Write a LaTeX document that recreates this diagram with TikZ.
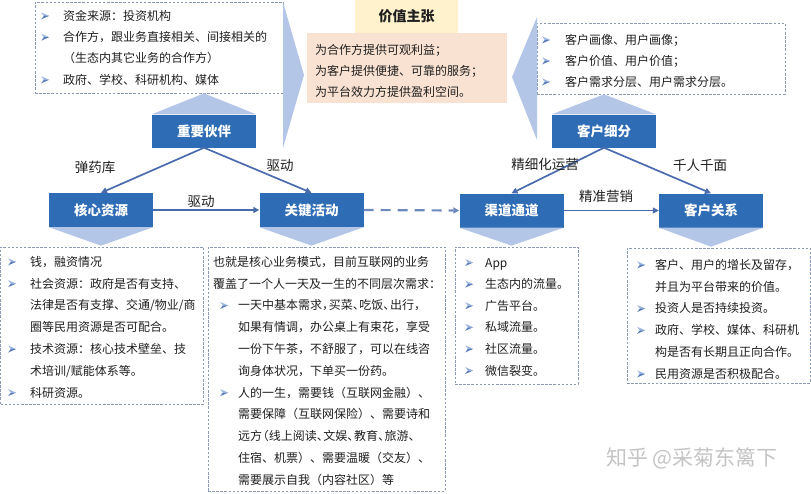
\documentclass[tikz,border=0pt]{standalone}
\usepackage{fontspec}
\setmainfont{Noto Sans CJK SC}
\usetikzlibrary{arrows.meta}
\definecolor{boxblue}{HTML}{2E6CB5}
\definecolor{lineblue}{HTML}{4A6CAD}
\definecolor{tricol}{HTML}{B4C6E7}
\definecolor{dashc}{HTML}{8A9AB5}
\definecolor{txt}{HTML}{1F1F1F}
\definecolor{vptitle}{HTML}{FFF2CC}
\definecolor{vpbody}{HTML}{F9E2D2}
\definecolor{bullight}{HTML}{9DB6DE}
\definecolor{buldark}{HTML}{5A7DB8}
\definecolor{wmark}{HTML}{C4C4C4}
\newcommand\arrbul{\tikz[x=1pt,y=1pt,baseline=0pt]{\fill[bullight] (0,8) -- (8,4.5) -- (2.6,4.5) -- cycle; \fill[buldark] (0,1) -- (8,4.5) -- (2.6,4.5) -- cycle;}}
\newcommand\bx[1]{\makebox[#1][l]{\arrbul}}
\newcommand\ix[1]{\hspace*{#1}}
\newcommand\dn{\makebox[.55em][l]{、}}
\newcommand\cm{\makebox[.55em][l]{，}}
\newcommand\lp{\makebox[.55em][r]{（}}
\begin{document}
\begin{tikzpicture}[x=1pt,y=-1pt,
  blk/.style={fill=boxblue, text=white, font=\fontsize{13.5}{14}\selectfont\bfseries, minimum width=104pt, minimum height=33pt, inner sep=0pt},
  dbox/.style={draw=dashc, dash pattern=on 2.5pt off 1.6pt, line width=0.7pt, inner sep=0pt},
  body/.style={anchor=north west, align=left, inner sep=0pt, text=txt, font=\fontsize{12}{21.8}\selectfont},
  conn/.style={draw=lineblue, line width=1.7pt, -{Triangle[length=6pt,width=6pt]}},
  dconn/.style={draw=lineblue!80, line width=2.2pt, dash pattern=on 10pt off 7pt, -{Triangle[length=6pt,width=6pt]}},
  lbl/.style={font=\fontsize{13.5}{14}\selectfont, text=txt, inner sep=0pt}
]
\useasboundingbox (0,0) rectangle (811,493);

% dashed boxes
\node[dbox, minimum width=248pt, minimum height=91pt] (pd) at (159,47.5) {};
\node[dbox, minimum width=248pt, minimum height=71pt] (sd) at (661,58.5) {};
\node[dbox, minimum width=203pt, minimum height=157pt] (rd) at (102,325.5) {};
\node[dbox, minimum width=237pt, minimum height=244pt] (ad) at (326.5,369) {};
\node[dbox, minimum width=123pt, minimum height=137pt] (cd) at (516.5,315.5) {};
\node[dbox, minimum width=183pt, minimum height=135pt] (rld) at (718.5,315.5) {};

% blue boxes
\node[blk] (kp) at (204,131) {重要伙伴};
\node[blk] (cs) at (604,131) {客户细分};
\node[blk, minimum height=34pt] (kr) at (101,210) {核心资源};
\node[blk, minimum height=34pt] (ka) at (311.5,210) {关键活动};
\node[blk, minimum height=34pt] (ch) at (511.5,210.5) {渠道通道};
\node[blk, minimum height=34pt] (cr) at (711,210.5) {客户关系};

% pointer triangles
\fill[tricol] (kp.north west) -- (kp.north east) -- (kp.north |- pd.south) -- cycle;
\fill[tricol] (cs.north west) -- (cs.north east) -- (cs.north |- sd.south) -- cycle;
\fill[tricol] (kr.south west) -- (kr.south east) -- ([yshift=1pt]kr.south |- rd.north) -- cycle;
\fill[tricol] (ka.south west) -- (ka.south east) -- ([yshift=1pt]ka.south |- ad.north) -- cycle;
\fill[tricol] (ch.south west) -- (ch.south east) -- ([yshift=1pt]ch.south |- cd.north) -- cycle;
\fill[tricol] (cr.south west) -- (cr.south east) -- ([yshift=1pt]cr.south |- rld.north) -- cycle;

% chevrons toward value proposition
\fill[tricol] (283,2) -- (304,75) -- (283,148) -- cycle;
\fill[tricol] (537,17) -- (512,77) -- (537,140) -- cycle;

% value proposition
\node[fill=vptitle, minimum width=103pt, minimum height=33pt, inner sep=0pt, text=txt, font=\fontsize{14}{14}\selectfont\bfseries] (vpt) at (406.5,16.5) {价值主张};
\node[fill=vpbody, minimum width=200pt, minimum height=70pt, inner sep=0pt] (vpb) at (407,68) {};
\node[body, font=\fontsize{12}{21}\selectfont] (vptx) at (315,44) {为合作方提供可观利益；\\为客户提供便捷、可靠的服务；\\为平台效力方提供盈利空间。};

% texts
\node[body, font=\fontsize{12}{21.3}\selectfont] (pdt) at (41,10) {\bx{22pt}资金来源：投资机构\\
\bx{22pt}合作方，跟业务直接相关、间接相关的\\
\ix{22pt}（生态内其它业务的合作方）\\
\bx{22pt}政府、学校、科研机构、媒体};

\node[body, font=\fontsize{12}{21}\selectfont] (sdt) at (542,34) {\bx{23pt}客户画像、用户画像；\\
\bx{23pt}客户价值、用户价值；\\
\bx{23pt}客户需求分层、用户需求分层。};

\node[body] (rdt) at (8,256) {\bx{22pt}钱，融资情况\\
\bx{22pt}社会资源：政府是否有支持、\\
\ix{22pt}法律是否有支撑、交通/物业/商\\
\ix{22pt}圈等民用资源是否可配合。\\
\bx{22pt}技术资源：核心技术壁垒、技\\
\ix{22pt}术培训/赋能体系等。\\
\bx{22pt}科研资源。};

\node[body] (adt) at (213,256) {也就是核心业务模式，目前互联网的业务\\
覆盖了一个人一天及一生的不同层次需求：\\
\ix{7pt}\bx{18pt}一天中基本需求\cm 买菜\dn 吃饭\dn 出行\cm\\
\ix{25pt}如果有情调，办公桌上有束花，享受\\
\ix{25pt}一份下午茶，不舒服了，可以在线咨\\
\ix{25pt}询身体状况，下单买一份药。\\
\ix{7pt}\bx{18pt}人的一生，需要钱（互联网金融）、\\
\ix{25pt}需要保障（互联网保险）、需要诗和\\
\ix{25pt}远方\lp 线上阅读\dn 文娱\dn 教育\dn 旅游\dn\\
\ix{25pt}住宿、机票）、需要温暖（交友）、\\
\ix{25pt}需要展示自我（内容社区）等};

\node[body, font=\fontsize{12}{21.6}\selectfont] (cdt) at (465,258) {\bx{20pt}App\\
\bx{20pt}生态内的流量。\\
\bx{20pt}广告平台。\\
\bx{20pt}私域流量。\\
\bx{20pt}社区流量。\\
\bx{20pt}微信裂变。};

\node[body] (rldt) at (637,259) {\bx{18pt}客户、用户的增长及留存，\\
\ix{18pt}并且为平台带来的价值。\\
\bx{18pt}投资人是否持续投资。\\
\bx{18pt}政府、学校、媒体、科研机\\
\ix{18pt}构是否有长期且正向合作。\\
\bx{18pt}民用资源是否积极配合。};

% connectors
\draw[conn] (kp.south) -- (kr.north);
\draw[conn] (kp.south) -- (ka.north);
\draw[conn] (kr.east) -- (ka.west);
\draw[dconn] (ka.east) -- (ch.west);
\draw[conn] (cs.south) -- (ch.north);
\draw[conn] (cs.south) -- (cr.north);
\draw[conn] (ch.east) -- (cr.west);

% connector labels
\node[lbl] (l1) at (95,167) {弹药库};
\node[lbl] (l2) at (280,165) {驱动};
\node[lbl] (l3) at (201,201) {驱动};
\node[lbl] (l4) at (545,164) {精细化运营};
\node[lbl] (l5) at (700,165) {千人千面};
\node[lbl] (l6) at (606,196) {精准营销};

% watermark
\node[text=wmark, font=\fontsize{21}{21}\selectfont, inner sep=0pt] (wm) at (692,458) {知乎 @采菊东篱下};
\end{tikzpicture}
\end{document}
